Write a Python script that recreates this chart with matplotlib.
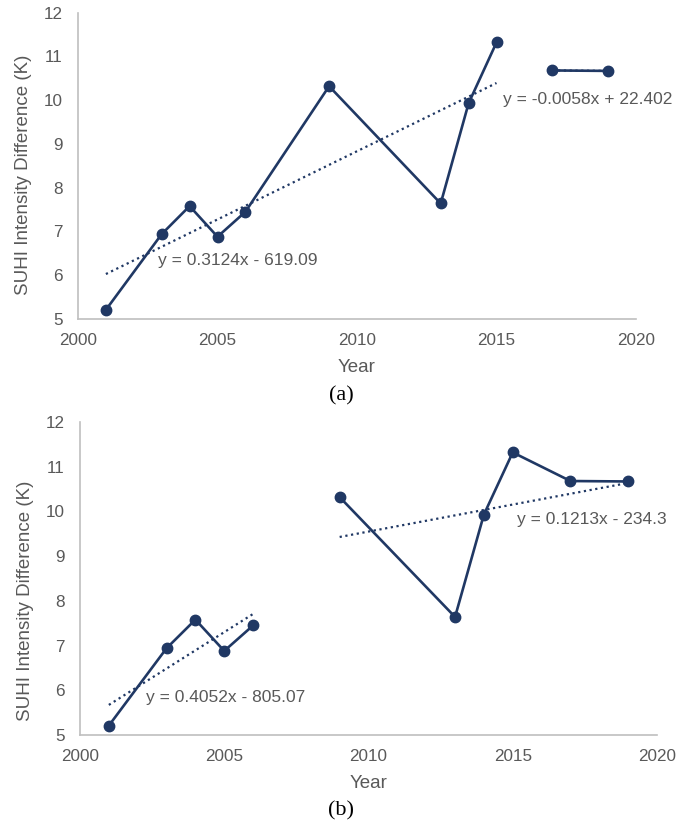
import numpy as np
import matplotlib.pyplot as plt

plt.rcParams['font.family'] = ['Liberation Sans', 'DejaVu Sans']

# SUHI intensity difference per year
years = [2001, 2003, 2004, 2005, 2006, 2009, 2013, 2014, 2015, 2017, 2019]
suhi = [5.21, 6.94, 7.58, 6.88, 7.45, 10.32, 7.64, 9.93, 11.32, 10.68, 10.67]

# how the points are split into segments in each panel
split_a = [9, 11]   # 2001-2015 | 2017-2019
split_b = [5, 11]   # 2001-2006 | 2009-2019

eq_a = ["y = 0.3124x - 619.09", "y = -0.0058x + 22.402"]
eq_b = ["y = 0.4052x - 805.07", "y = 0.1213x - 234.3"]

navy = "#203864"
grey_txt = "#595959"
grey_ax = "#BFBFBF"

W, H = 698, 827
fig = plt.figure(figsize=(W / 100, H / 100), dpi=100)


def px_axes(left, right, top, bottom):
    return fig.add_axes([left / W, 1 - bottom / H, (right - left) / W, (bottom - top) / H])


def panel(ax, splits, eqs, eq_pos, ylab_xy, xlab_y):
    x = np.array(years)
    y = np.array(suhi)
    start = 0
    for end in splits:
        xs, ys = x[start:end], y[start:end]
        # linear trend (dotted), like Excel's trendline
        k, b = np.polyfit(xs, ys, 1)
        ax.plot([xs[0], xs[-1]], [k * xs[0] + b, k * xs[-1] + b], color=navy,
                lw=1.6, ls=(0, (1, 1.6)), zorder=2)
        ax.plot(xs, ys, color=navy, lw=1.9, marker="o", ms=7.5, zorder=3)
        start = end

    for txt, (tx, ty) in zip(eqs, eq_pos):
        ax.text(tx, ty, txt, fontsize=12.5, color=grey_txt, va="center", ha="left")

    ax.set_xlim(2000, 2020)
    ax.set_ylim(5, 12)
    ax.set_xticks([2000, 2005, 2010, 2015, 2020])
    ax.set_yticks(range(5, 13))
    for s in ["top", "right"]:
        ax.spines[s].set_visible(False)
    for s in ["left", "bottom"]:
        ax.spines[s].set_color(grey_ax)
        ax.spines[s].set_linewidth(1.2)
    ax.tick_params(length=0, labelsize=12.3, labelcolor=grey_txt)
    ax.tick_params(axis="x", pad=10)
    ax.tick_params(axis="y", pad=11)
    ax.set_xlabel("Year", fontsize=13.5, color=grey_txt)
    ax.set_ylabel("SUHI Intensity Difference (K)", fontsize=13.5, color=grey_txt)
    ax.yaxis.set_label_coords(*ylab_xy)
    ax.xaxis.set_label_coords(0.5, xlab_y)


ax1 = px_axes(78, 636, 12.7, 319)
panel(ax1, split_a, eq_a, [(2002.85, 6.34), (2015.25, 10.01)], (-0.082, 0.47), -0.131)

ax2 = px_axes(80, 657, 422, 735)
panel(ax2, split_b, eq_b, [(2002.3, 5.83), (2015.15, 9.81)], (-0.079, 0.43), -0.128)

fig.text(341 / W, 1 - 396 / H, "(a)", fontsize=16, family="Liberation Serif",
         ha="center", va="center")
fig.text(341 / W, 1 - 811 / H, "(b)", fontsize=16, family="Liberation Serif",
         ha="center", va="center")

fig.savefig("out.png", dpi=100)
